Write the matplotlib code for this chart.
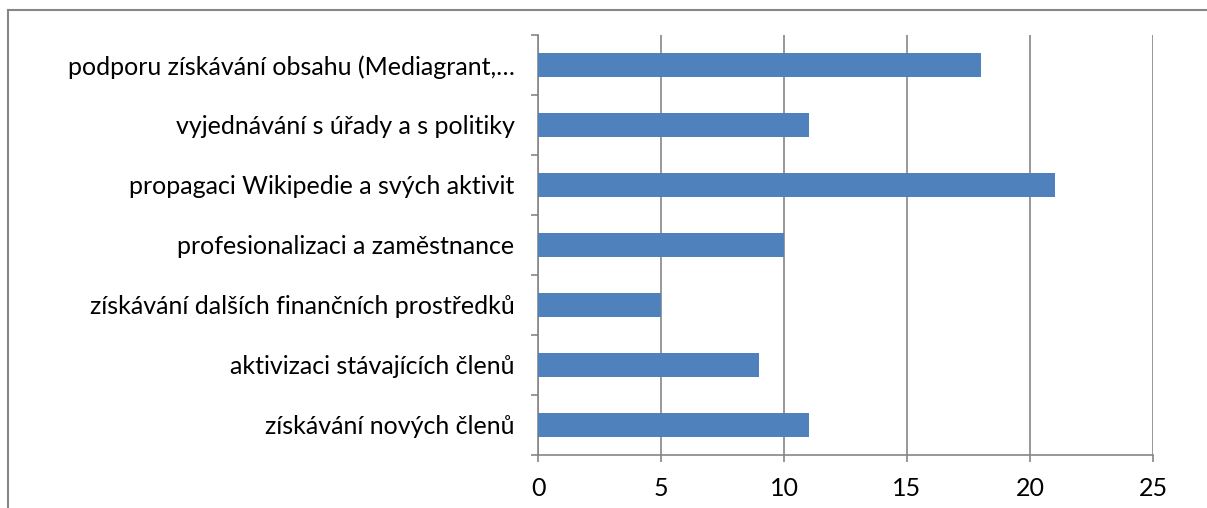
import matplotlib
matplotlib.use("Agg")
import matplotlib.pyplot as plt
from matplotlib.lines import Line2D
import numpy as np

categories = [
    "podporu získávání obsahu (Mediagrant,…",
    "vyjednávání s úřady a s politiky",
    "propagaci Wikipedie a svých aktivit",
    "profesionalizaci a zaměstnance",
    "získávání dalších finančních prostředků",
    "aktivizaci stávajících členů",
    "získávání nových členů",
]
values = [18, 11, 21, 10, 5, 9, 11]
x_ticks = [0, 5, 10, 15, 20, 25]

plt.rcParams['font.family'] = ['Lato', 'DejaVu Sans']

W, H = 1207, 508
fig = plt.figure(figsize=(W / 100, H / 100), dpi=100)
ax = fig.add_axes([538 / W, 1 - 455 / H, (1153 - 538) / W, (455 - 35) / H])

n = len(categories)
ypos = np.arange(n)[::-1]
ax.barh(ypos, values, height=0.4, color="#4F81BD", zorder=3)

ax.set_xlim(0, 25)
ax.set_ylim(-0.5, n - 0.5)
ax.set_xticks(x_ticks)
ax.set_xticklabels([str(t) for t in x_ticks], fontsize=18)
ax.xaxis.grid(True, color="#868686", linewidth=1.2, zorder=0)

ax.set_yticks(ypos)
ax.set_yticklabels(categories, fontsize=18)
ax.tick_params(axis='y', which='major', length=0, pad=17)
ax.set_yticks(np.arange(-0.5, n, 1.0), minor=True)
ax.tick_params(axis='y', which='minor', length=5, width=1.2, color="#868686", direction='out')
ax.tick_params(axis='x', which='major', length=5, width=1.2, color="#868686", direction='out', pad=11)

for s in ['top', 'right']:
    ax.spines[s].set_visible(False)
for s in ['left', 'bottom']:
    ax.spines[s].set_color("#868686")
    ax.spines[s].set_linewidth(1.2)

# outer chart frame (top and left visible)
fig.add_artist(Line2D([8 / W, 1.01], [1 - 10 / H, 1 - 10 / H], color="#868686", linewidth=1.5, transform=fig.transFigure))
fig.add_artist(Line2D([8 / W, 8 / W], [1 - 10 / H, -0.01], color="#868686", linewidth=1.5, transform=fig.transFigure))

fig.savefig("out.png", dpi=100)
